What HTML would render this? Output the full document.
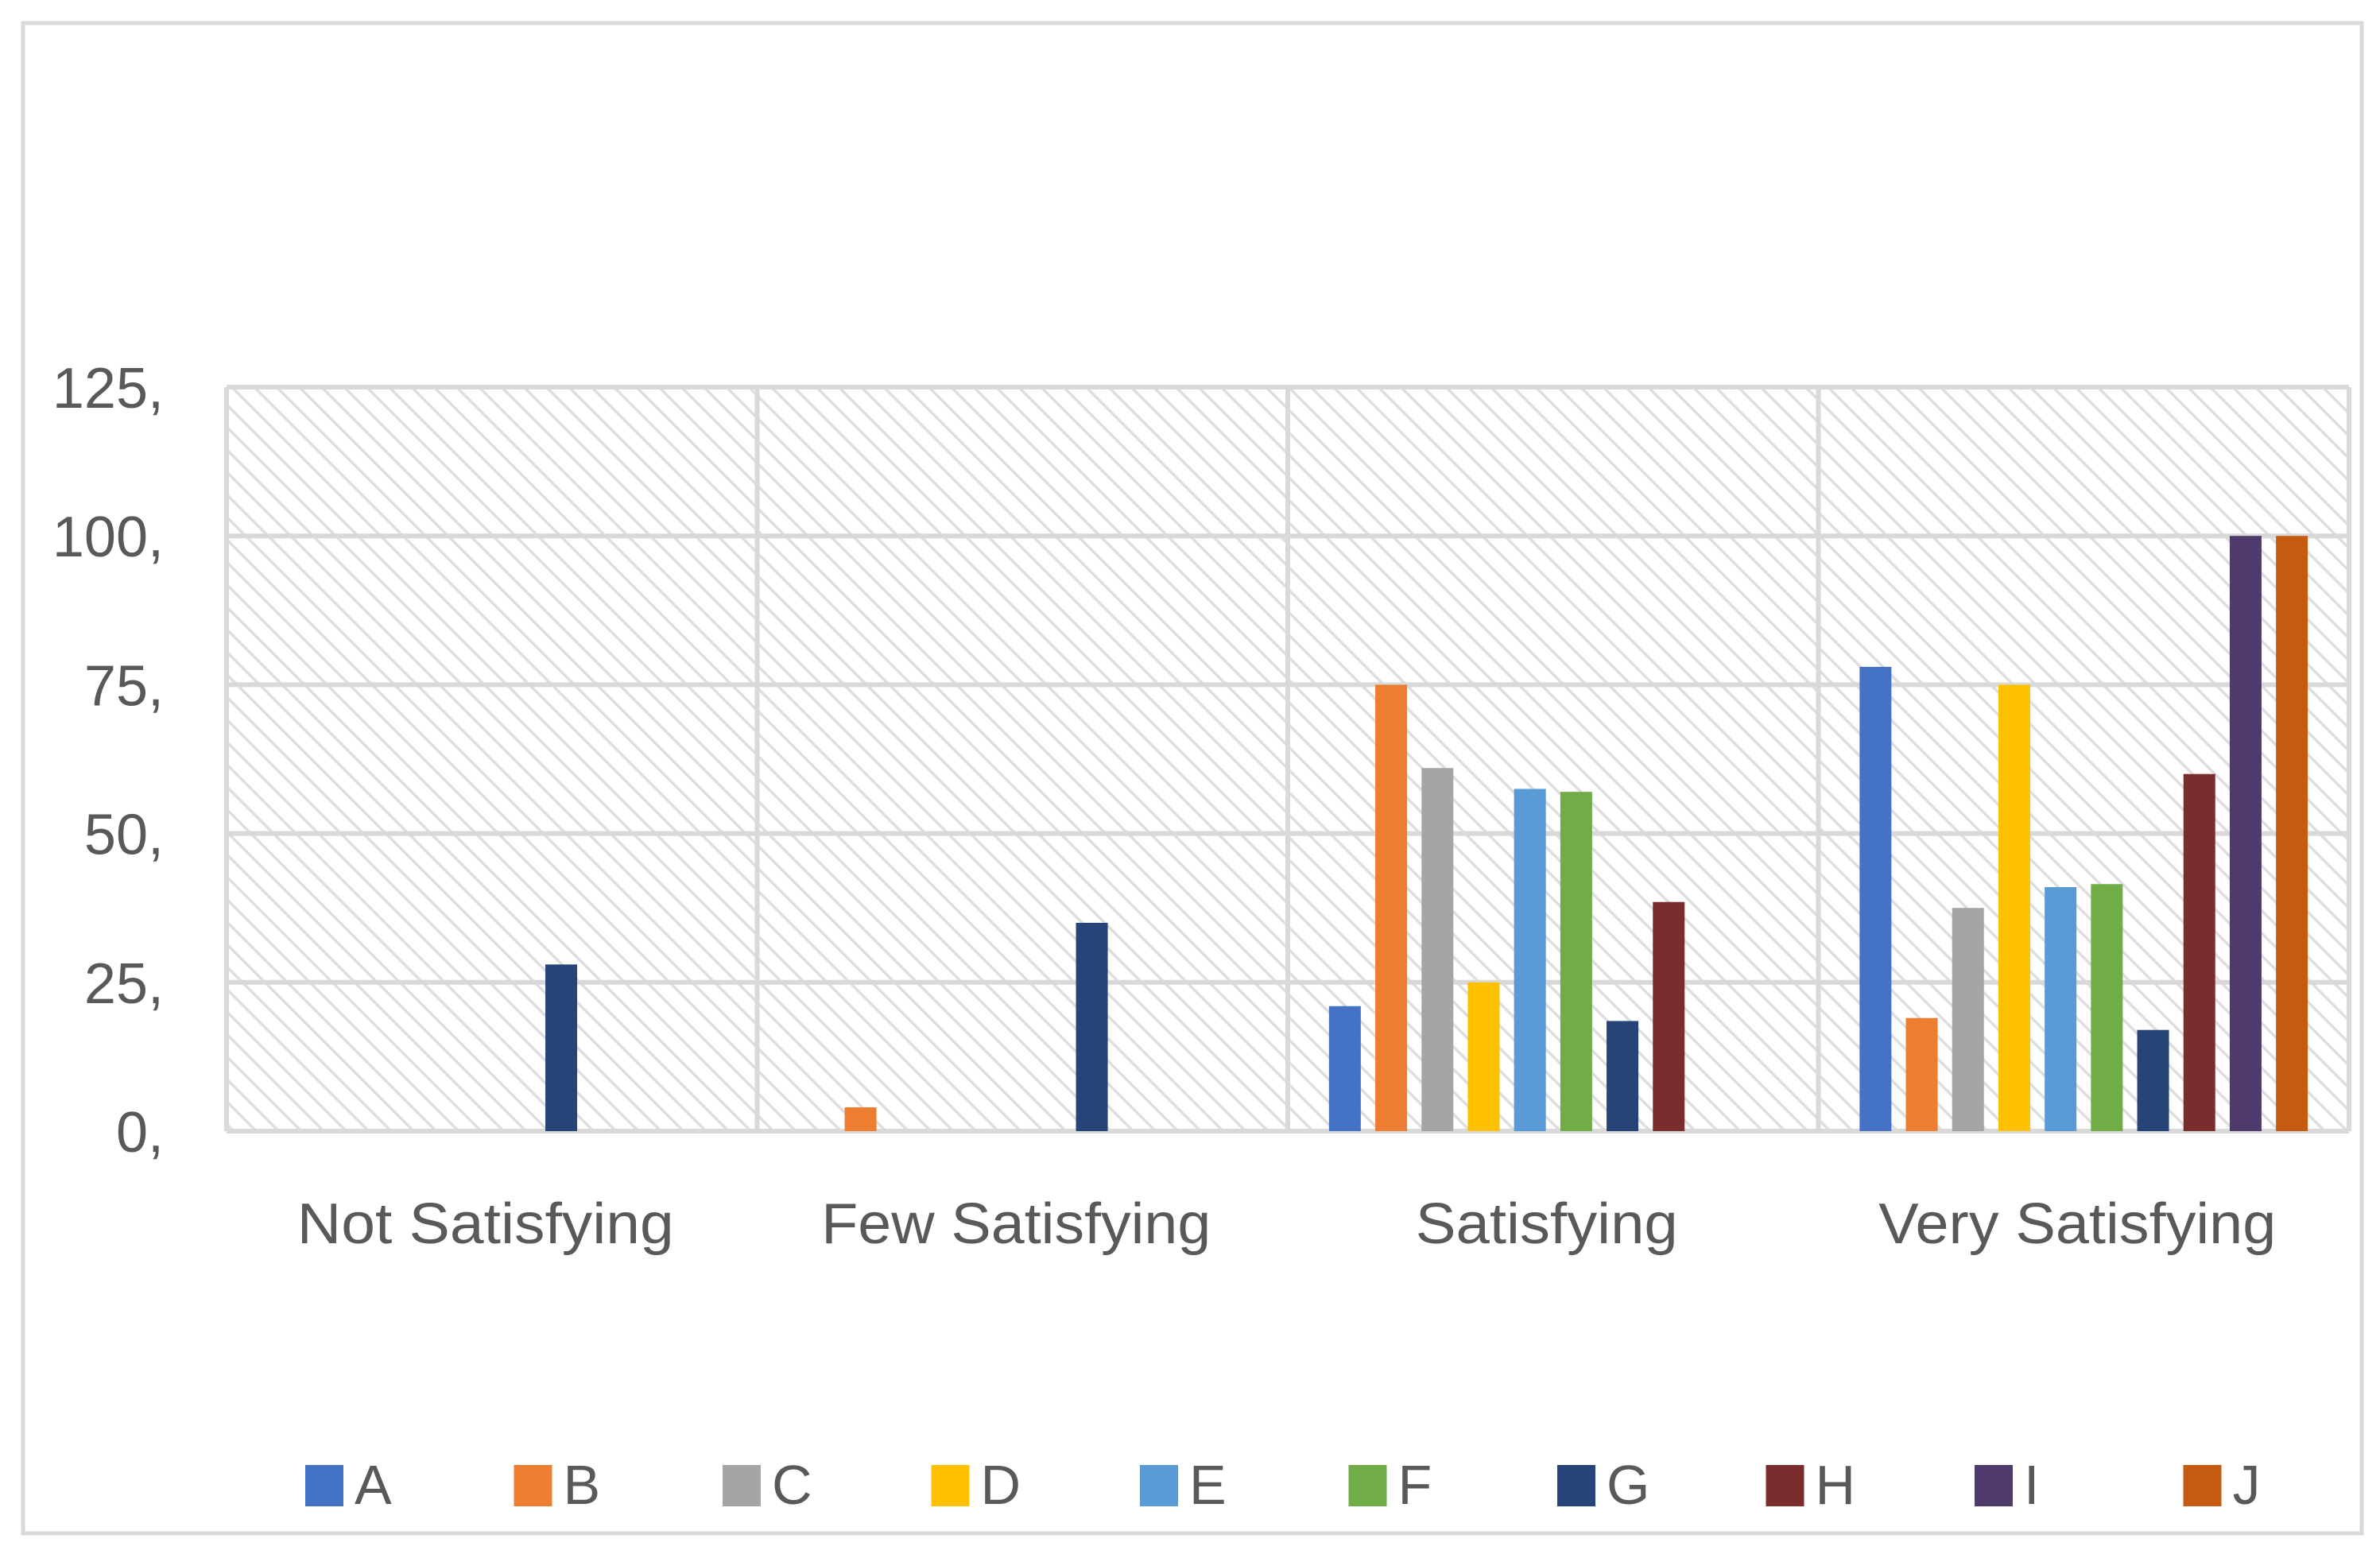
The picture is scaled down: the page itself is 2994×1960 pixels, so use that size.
<!DOCTYPE html>
<html><head><meta charset="utf-8"><style>
html,body{margin:0;padding:0;background:#fff;}
svg{display:block;}
text{font-family:"Liberation Sans",sans-serif;fill:#595959;}
</style></head><body>
<svg id="chart" width="2994" height="1960" viewBox="0 0 2994 1960" xmlns="http://www.w3.org/2000/svg">
<defs>
<pattern id="hatch" patternUnits="userSpaceOnUse" width="20" height="20" patternTransform="rotate(-45)">
<rect width="20" height="20" fill="#ffffff"/>
<line x1="0" y1="0" x2="0" y2="20" stroke="#dedede" stroke-width="7"/>
</pattern>
</defs>
<rect x="29" y="29" width="2942" height="1900" fill="#fff" stroke="#d9d9d9" stroke-width="5"/>
<g id="plot"></g>
</svg>
<script>
const categories = ["Not Satisfying","Few Satisfying","Satisfying","Very Satisfying"];
const seriesNames = ["A","B","C","D","E","F","G","H","I","J"];
const seriesColors = ["#4472c4","#ed7d31","#a5a5a5","#ffc000","#5b9bd5","#70ad47","#264478","#7b2c2c","#4e3b6b","#c55a11"];
const valuesA = [0,0,21,78];
const valuesB = [0,4,75,19];
const valuesC = [0,0,61,37.5];
const valuesD = [0,0,25,75];
const valuesE = [0,0,57.5,41];
const valuesF = [0,0,57,41.5];
const valuesG = [28,35,18.5,17];
const valuesH = [0,0,38.5,60];
const valuesI = [0,0,0,100];
const valuesJ = [0,0,0,100];
const seriesValues = [valuesA,valuesB,valuesC,valuesD,valuesE,valuesF,valuesG,valuesH,valuesI,valuesJ];
const yTicks = [0,25,50,75,100,125];
const yTickLabels = ["0,","25,","50,","75,","100,","125,"];

const NS="http://www.w3.org/2000/svg";
const g=document.getElementById('plot');
const L=285,R=2955,T=487,B=1423,yMax=125;
const catW=(R-L)/categories.length;
const y=v=>B-(v/yMax)*(B-T);
const slot=58.2, barW=40, pad=(catW-slot*seriesNames.length)/2;
const xBar=(c,s)=>L+c*catW+pad+s*slot+(slot-barW)/2;
function mk(tag,attrs){const e=document.createElementNS(NS,tag);for(const k in attrs)e.setAttribute(k,attrs[k]);g.appendChild(e);return e;}

const bg=mk('rect',{x:L,y:T,width:R-L,height:B-T,fill:'url(#hatch)'});



yTicks.forEach((t,i)=>{
  const ln=mk('line',{x1:L,x2:R,y1:y(t),y2:y(t),stroke:'#d9d9d9','stroke-width':6});
  
  
  const tx=mk('text',{x:206,y:y(t)+26,'text-anchor':'end','font-size':72});
  tx.textContent=yTickLabels[i];
  
  
});
for(let c=0;c<=categories.length;c++){
  const x=L+c*catW;
  const ln=mk('line',{x1:x,x2:x,y1:T,y2:B,stroke:'#d9d9d9','stroke-width':6});
  
  
}
categories.forEach((cat,c)=>{
  seriesValues.forEach((vals,s)=>{
    const v=vals[c]; if(!v) return;
    const r=mk('rect',{x:xBar(c,s),y:y(v),width:barW,height:B-y(v),fill:seriesColors[s]});
    
    
  });
  const tx=mk('text',{x:L+c*catW+catW/2-8,y:1564,'text-anchor':'middle','font-size':72,textLength:[474,490,330,500][c],lengthAdjust:'spacingAndGlyphs'});
  tx.textContent=cat;
  
  
});
seriesNames.forEach((n,s)=>{
  const x=384+s*262.5;
  const sq=mk('rect',{x:x,y:1843,width:48,height:52,fill:seriesColors[s]});
  
  
  const tx=mk('text',{x:x+62,y:1892,'font-size':70});
  tx.textContent=n;
  
  
});
</script>
</body></html>
